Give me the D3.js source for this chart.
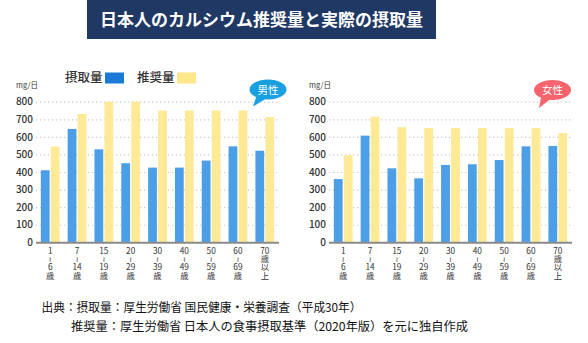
<!DOCTYPE html>
<html>
<head>
<meta charset="utf-8">
<script src="https://cdn.jsdelivr.net/npm/d3@7"></script>
<style>
  body { margin: 0; background: #fff; }
  text { font-family: "Noto Sans CJK JP", "Noto Sans", sans-serif; }
</style>
</head>
<body>
<div id="chart"></div>
<script>
// age groups on the x axis
const ageGroups = ['1〜6歳', '7〜14歳', '15〜19歳', '20〜29歳', '30〜39歳',
  '40〜49歳', '50〜59歳', '60〜69歳', '70歳以上']
const yTicks = [0, 100, 200, 300, 400, 500, 600, 700, 800]

// mg/日
const maleIntake = [410, 645, 529, 450, 425, 425, 465, 546, 521]
const maleRecommended = [545, 730, 800, 800, 750, 750, 750, 750, 713]
const femaleIntake = [360, 607, 421, 364, 440, 444, 468, 546, 548]
const femaleRecommended = [495, 715, 655, 650, 650, 650, 650, 650, 622]

const seriesKeys = ['intake', 'recommended']
const legendLabels = ['摂取量', '推奨量']

const width = 588, height = 343
const barColors = { intake: '#4c9fe6', recommended: '#fee996' }
const legendColors = ['#1b7ad8', '#fee68a']

const svg = d3.select('#chart').append('svg')
  .attr('width', width)
  .attr('height', height)

// title banner
svg.append('rect')
  .attr('x', 87).attr('y', 0)
  .attr('width', 349).attr('height', 39)
  .attr('fill', '#203864')
svg.append('text')
  .attr('x', 261.5).attr('y', 26)
  .attr('text-anchor', 'middle')
  .attr('fill', '#fff')
  .attr('font-size', 17)
  .attr('font-weight', 'bold')
  .text('日本人のカルシウム推奨量と実際の摂取量')

const y = d3.scaleLinear().domain([0, 800]).range([242.3, 101.7])

// "15〜19歳" -> ["15","〜","19","歳"], "70歳以上" -> ["70","歳","以","上"]
function tickLines(label) {
  let m = label.match(/^(\d+)〜(\d+)歳$/)
  if (m) return [m[1], '〜', m[2], '歳']
  m = label.match(/^(\d+)(.*)$/)
  return [m[1]].concat(m[2].split(''))
}

function drawPanel(left, right, intake, recommended, badge, badgeColor, bubble) {
  const g = svg.append('g')
  const rows = ageGroups.map((a, i) => ({ age: a, intake: intake[i], recommended: recommended[i] }))

  const x0 = d3.scaleBand()
    .domain(ageGroups)
    .range([left, right])
    .paddingInner(0.3)
    .paddingOuter(0.18)
  const x1 = d3.scaleBand()
    .domain(seriesKeys)
    .range([0, x0.bandwidth()])
    .paddingInner(0.12)

  // dotted grid
  g.append('g')
    .attr('transform', `translate(${left},0)`)
    .call(d3.axisLeft(y).tickValues(yTicks.slice(1)).tickSize(-(right - left)).tickFormat(''))
    .call(a => a.select('.domain').remove())
    .call(a => a.selectAll('line')
      .attr('stroke', '#c8c8c8')
      .attr('stroke-width', 1.2)
      .attr('stroke-dasharray', '1.2,2.8'))

  // y labels
  g.append('g')
    .attr('transform', `translate(${left - 3},0)`)
    .call(d3.axisLeft(y).tickValues(yTicks).tickSize(0).tickPadding(0))
    .call(a => a.select('.domain').remove())
    .call(a => a.selectAll('text')
      .attr('font-size', 10)
      .attr('font-weight', 500)
      .attr('fill', '#333'))

  g.append('text')
    .attr('x', left - 20).attr('y', 88)
    .attr('font-size', 7.5)
    .attr('fill', '#333')
    .text('mg/日')

  // bars
  g.append('g').selectAll('g')
    .data(rows)
    .join('g')
      .attr('transform', d => `translate(${x0(d.age)},0)`)
    .selectAll('rect')
    .data(d => seriesKeys.map(k => ({ key: k, value: d[k] })))
    .join('rect')
      .attr('x', d => x1(d.key))
      .attr('y', d => y(d.value))
      .attr('width', x1.bandwidth())
      .attr('height', d => y(0) - y(d.value))
      .attr('fill', d => barColors[d.key])

  // baseline
  g.append('line')
    .attr('x1', left).attr('x2', right)
    .attr('y1', y(0) + 0.5).attr('y2', y(0) + 0.5)
    .attr('stroke', '#8a8a8a')
    .attr('stroke-width', 2)

  // stacked age labels, one text per tick
  g.append('g').selectAll('text')
    .data(ageGroups)
    .join('text')
      .attr('text-anchor', 'middle')
      .attr('font-size', 8.3)
      .attr('fill', '#333')
    .each(function (d) {
      const cx = x0(d) + x0.bandwidth() / 2
      const t = d3.select(this)
      tickLines(d).forEach((s, i) => {
        const sp = t.append('tspan')
          .attr('x', cx)
          .attr('y', 253.5 + i * 8.4)
          .text(s === '〜' ? '≀' : s)
        if (s === '〜') sp.attr('font-family', 'DejaVu Sans').attr('font-size', 7.5)
      })
    })

  // speech bubble
  const b = g.append('g')
  b.append('path')
    .attr('d', `M${bubble.cx - 11},${bubble.cy + 5} L${bubble.tx},${bubble.ty} L${bubble.cx - 2},${bubble.cy + 9} Z`)
    .attr('fill', badgeColor)
  b.append('ellipse')
    .attr('cx', bubble.cx).attr('cy', bubble.cy)
    .attr('rx', 18.5).attr('ry', 10)
    .attr('fill', badgeColor)
  b.append('text')
    .attr('x', bubble.cx).attr('y', bubble.cy + 4)
    .attr('text-anchor', 'middle')
    .attr('font-size', 10.5)
    .attr('fill', '#fff')
    .text(badge)
}

drawPanel(36, 279, maleIntake, maleRecommended, '男性', '#1aa0e0',
  { cx: 268, cy: 89.5, tx: 253, ty: 106.5 })
drawPanel(329, 572, femaleIntake, femaleRecommended, '女性', '#f7646e',
  { cx: 552.5, cy: 90, tx: 539, ty: 108 })

// legend
const legend = svg.append('g')
legendLabels.forEach((lab, i) => {
  const lx = 65 + i * 72
  legend.append('text')
    .attr('x', lx).attr('y', 82)
    .attr('font-size', 12.5)
    .attr('font-weight', 500)
    .attr('fill', '#333')
    .text(lab)
  legend.append('rect')
    .attr('x', lx + 40).attr('y', 72.5)
    .attr('width', 19).attr('height', 11)
    .attr('fill', legendColors[i])
})

// source note
const notes = [
  { x: 41.5, y: 312, w: 320, s: '出典：摂取量：厚生労働省 国民健康・栄養調査（平成30年）' },
  { x: 71, y: 331, w: 397, s: '推奨量：厚生労働省 日本人の食事摂取基準（2020年版）を元に独自作成' }
]
svg.append('g').selectAll('text')
  .data(notes)
  .join('text')
    .attr('x', d => d.x).attr('y', d => d.y)
    .attr('font-size', 12)
    .attr('fill', '#111')
    .attr('textLength', d => d.w)
    .attr('lengthAdjust', 'spacingAndGlyphs')
    .text(d => d.s)
</script>
</body>
</html>
